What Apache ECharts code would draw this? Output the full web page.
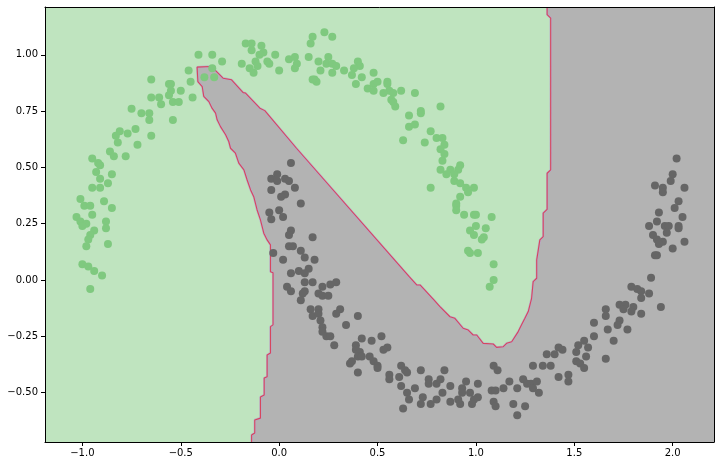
<!DOCTYPE html>
<html>
<head>
<meta charset="utf-8">
<script src="https://cdn.jsdelivr.net/npm/echarts@6/dist/echarts.min.js"></script>
<style>
  html, body { margin: 0; padding: 0; background: #fff; }
  #chart { width: 721px; height: 466px; }
</style>
</head>
<body>
<div id="chart"></div>
<script>
// axis ranges and ticks
const xMin = -1.19, xMax = 2.21
const yMin = -0.719, yMax = 1.212
const xTicks = [-1.0, -0.5, 0.0, 0.5, 1.0, 1.5, 2.0]
const yTicks = [-0.5, -0.25, 0.0, 0.25, 0.5, 0.75, 1.0]

// class 0 (upper moon)
const greenPoints = [
  [-0.17,1.05],[-0.14,1.05],[-0.09,1.04],[-0.14,1.02],[-0.08,1.01],[-0.10,1.00],[-0.02,1.00],[-0.12,0.97],
  [-0.06,0.97],[-0.19,0.96],[-0.05,0.96],[0.00,0.93],[-0.15,0.94],[-0.13,0.92],[-0.11,0.95],
  [-0.41,1.00],[-0.34,1.00],[-0.29,0.97],[-0.46,0.93],[-0.34,0.94],[-0.38,0.90],[-0.33,0.90],[-0.45,0.88],[-0.44,0.81],
  [-0.65,0.89],[-0.56,0.87],[-0.55,0.87],[-0.50,0.84],[-0.55,0.84],[-0.56,0.82],[-0.61,0.81],[-0.65,0.81],
  [-0.54,0.79],[-0.51,0.79],[-0.60,0.78],[-0.75,0.76],[-0.70,0.74],[-0.66,0.74],[-0.66,0.71],[-0.54,0.71],
  [-0.81,0.66],[-0.73,0.67],[-0.77,0.65],[-0.83,0.64],[-0.82,0.61],[-0.65,0.64],[-0.72,0.60],
  [-0.86,0.57],[-0.84,0.55],[-0.78,0.55],[-0.95,0.54],[-0.92,0.52],[-0.91,0.51],[-0.93,0.48],[-0.85,0.47],
  [-0.91,0.45],[-0.87,0.43],[-0.95,0.41],[-0.91,0.41],[-1.01,0.36],[-0.99,0.33],[-0.96,0.33],[-0.89,0.35],
  [-0.85,0.32],[-0.95,0.29],[-1.03,0.28],[-1.01,0.26],[-0.98,0.25],[-1.00,0.24],[-0.88,0.26],[-0.88,0.23],
  [-0.94,0.22],[-0.96,0.20],[-0.97,0.18],[-0.98,0.15],[-0.87,0.16],[-1.00,0.07],[-0.97,0.06],[-0.94,0.04],
  [-0.90,0.02],[-0.96,-0.04],
  [0.17,1.08],[0.23,1.10],[0.27,1.08],[0.16,1.05],[0.05,0.98],[0.08,0.99],[0.09,0.96],[0.08,0.94],
  [0.15,0.99],[0.20,0.97],[0.25,0.99],[0.24,0.96],[0.27,0.96],[0.29,0.95],[0.21,0.93],[0.27,0.92],
  [0.33,0.93],[0.40,0.97],[0.41,0.95],[0.38,0.94],[0.48,0.92],[0.37,0.91],[0.42,0.90],[0.18,0.89],
  [0.19,0.88],[0.17,0.89],[0.39,0.87],[0.45,0.85],[0.48,0.87],[0.50,0.88],[0.48,0.84],
  [0.55,0.88],[0.55,0.87],[0.56,0.84],[0.53,0.83],[0.58,0.83],[0.62,0.84],[0.69,0.83],[0.57,0.80],
  [0.58,0.79],[0.59,0.77],[0.82,0.77],[0.72,0.75],[0.72,0.74],[0.66,0.73],[0.66,0.68],[0.69,0.69],
  [0.77,0.66],[0.80,0.63],[0.83,0.63],[0.63,0.62],[0.74,0.61],[0.84,0.60],[0.82,0.58],[0.84,0.56],
  [0.83,0.53],[0.92,0.51],[0.91,0.49],[0.82,0.49],[0.87,0.49],[0.85,0.47],[0.89,0.47],[0.89,0.44],
  [0.92,0.43],[0.95,0.41],[0.99,0.41],[0.77,0.41],[0.96,0.39],[0.92,0.37],[0.90,0.34],[0.90,0.33],
  [0.90,0.31],[0.94,0.29],[0.99,0.29],[1.00,0.29],[1.08,0.28],[1.00,0.24],[0.97,0.22],[0.99,0.20],
  [1.05,0.23],[1.04,0.19],[1.03,0.18],[0.96,0.13],[0.97,0.12],[1.01,0.12],[1.09,0.07],[1.09,0.00],
  [1.07,-0.03]
]

// class 1 (lower moon)
const grayPoints = [
  [0.06,0.52],[-0.01,0.47],[-0.04,0.45],[-0.01,0.44],[0.03,0.45],[0.05,0.44],[0.08,0.41],[-0.04,0.40],
  [0.03,0.38],[0.01,0.37],[0.11,0.34],[-0.05,0.30],[0.00,0.31],[-0.04,0.27],[0.02,0.28],[0.06,0.22],
  [0.05,0.20],[0.17,0.19],[0.05,0.15],[0.07,0.15],[0.11,0.13],[-0.03,0.12],[0.13,0.10],[0.18,0.09],
  [0.02,0.09],[0.15,0.05],[0.10,0.04],[0.06,0.03],[0.13,0.03],[0.13,-0.01],[0.17,-0.01],[0.04,-0.03],
  [0.06,-0.05],[0.13,-0.05],[0.12,-0.06],[0.26,-0.02],[0.29,-0.01],[0.22,-0.03],[0.20,-0.06],[0.22,-0.07],
  [0.25,-0.07],[0.11,-0.09],[0.16,-0.13],[0.20,-0.13],[0.17,-0.16],[0.20,-0.15],[0.31,-0.13],[0.29,-0.15],
  [0.40,-0.16],[0.21,-0.18],[0.34,-0.20],[0.22,-0.21],[0.22,-0.23],[0.24,-0.25],[0.26,-0.25],[0.28,-0.29],
  [0.42,-0.26],[0.47,-0.27],[0.52,-0.25],[0.39,-0.29],[0.39,-0.31],[0.41,-0.32],[0.40,-0.34],[0.55,-0.30],
  [0.53,-0.31],[0.42,-0.34],[0.46,-0.34],[0.48,-0.36],[0.36,-0.37],[0.37,-0.36],[0.50,-0.38],[0.50,-0.39],
  [0.40,-0.41],[0.62,-0.38],[0.64,-0.40],[0.56,-0.42],[0.56,-0.44],[0.61,-0.43],[0.62,-0.47],[0.65,-0.50],
  [0.65,-0.41],[0.63,-0.57],[0.66,-0.53],[0.69,-0.48],[0.72,-0.40],[0.73,-0.52],[0.72,-0.55],[0.76,-0.44],
  [0.76,-0.46],[0.80,-0.46],[0.82,-0.44],[0.84,-0.40],[0.83,-0.50],[0.80,-0.53],[0.77,-0.55],[0.87,-0.47],
  [0.87,-0.54],[0.91,-0.53],[0.92,-0.55],[0.93,-0.48],[0.93,-0.50],[0.95,-0.45],[0.97,-0.50],[1.01,-0.46],
  [1.01,-0.52],[0.99,-0.53],[0.98,-0.55],[1.09,-0.38],[1.11,-0.40],[1.08,-0.49],[1.10,-0.49],[1.09,-0.54],
  [1.10,-0.56],[1.14,-0.48],[1.17,-0.45],[1.21,-0.48],[1.19,-0.55],[1.21,-0.60],[1.25,-0.56],[1.24,-0.44],
  [1.26,-0.46],[1.28,-0.46],[1.29,-0.48],[1.31,-0.45],[1.32,-0.50],[1.29,-0.38],[1.34,-0.38],[1.38,-0.38],
  [1.36,-0.33],[1.40,-0.33],[1.42,-0.30],[1.44,-0.31],[1.42,-0.43],[1.47,-0.42],[1.47,-0.45],[1.51,-0.32],
  [1.52,-0.29],[1.55,-0.27],[1.57,-0.30],[1.56,-0.34],[1.51,-0.36],[1.53,-0.37],[1.55,-0.39],[1.60,-0.25],
  [2.02,0.54],[2.00,0.47],[1.99,0.44],[1.91,0.42],[1.95,0.41],[1.95,0.39],[2.06,0.41],[2.03,0.35],
  [2.01,0.32],[1.93,0.30],[2.05,0.28],[1.92,0.26],[1.88,0.24],[1.96,0.24],[1.98,0.24],[2.03,0.24],
  [2.03,0.23],[1.97,0.21],[1.90,0.20],[1.92,0.18],[1.95,0.17],[1.93,0.16],[2.06,0.17],[2.00,0.14],
  [1.92,0.11],[1.91,0.11],[1.89,0.01],[1.79,-0.03],[1.82,-0.04],[1.84,-0.05],[1.88,-0.06],[1.84,-0.08],
  [1.73,-0.11],[1.76,-0.11],[1.80,-0.12],[1.75,-0.13],[1.79,-0.14],[1.94,-0.12],[1.84,-0.15],[1.66,-0.13],
  [1.66,-0.16],[1.60,-0.19],[1.73,-0.18],[1.72,-0.20],[1.67,-0.22],[1.77,-0.22],[1.70,-0.27],[1.66,-0.35]
]

// decision boundary, traced from the top edge down to the bottom edge
const boundaryX = [
  1.362, 1.362, 1.380, 1.380, 1.362, 1.362, 1.342, 1.342, 1.325, 1.309, 1.309, 1.291, 1.283, 1.266,
  1.249, 1.232, 1.215, 1.182, 1.156, 1.139, 1.105, 1.088, 1.037, 1.004, 0.986, 0.961, 0.935, 0.893,
  0.868, 0.817, 0.783, 0.716, 0.699, 0.661, 0.088, -0.073, -0.098, -0.171, -0.183, -0.242, -0.285,
  -0.327, -0.349, -0.417, -0.413, -0.391, -0.383, -0.357, -0.341, -0.323, -0.315, -0.298, -0.272,
  -0.256, -0.247, -0.222, -0.205, -0.179, -0.163, -0.145, -0.129, -0.112, -0.095, -0.078, -0.061,
  -0.044, -0.044, -0.031, -0.031, -0.044, -0.044, -0.061, -0.061, -0.076, -0.076, -0.095, -0.095,
  -0.124, -0.124, -0.140, -0.140
]
const boundaryY = [
  1.212, 1.178, 1.163, 0.489, 0.474, 0.314, 0.297, 0.193, 0.178, 0.089, 0.008, -0.007, -0.081, -0.140,
  -0.170, -0.199, -0.229, -0.274, -0.281, -0.296, -0.299, -0.284, -0.281, -0.244, -0.244, -0.222, -0.214, -0.170,
  -0.163, -0.118, -0.085, -0.022, -0.022, 0.015, 0.585, 0.752, 0.763, 0.830, 0.832, 0.889, 0.896,
  0.933, 0.948, 0.945, 0.881, 0.859, 0.815, 0.792, 0.763, 0.741, 0.711, 0.681, 0.645,
  0.615, 0.585, 0.563, 0.519, 0.489, 0.445, 0.400, 0.370, 0.311, 0.267, 0.208, 0.178,
  0.156, 0.037, 0.032, -0.199, -0.207, -0.324, -0.333, -0.429, -0.435, -0.510, -0.519, -0.613,
  -0.621, -0.679, -0.688, -0.719
]

const chart = echarts.init(document.getElementById('chart'))

const fmtMinus = (s) => s.replace('-', '\u2212')
const labelStyle = { fontFamily: 'DejaVu Sans', fontSize: 10, color: '#000' }

const boundaryLine = boundaryX.map((x, i) => [x, boundaryY[i]])

const option = {
  animation: false,
  grid: {
    left: 45, right: 7, top: 7, bottom: 24,
    show: true,
    backgroundColor: '#bfe4bf',
    borderWidth: 0
  },
  xAxis: [
    {
      type: 'value', min: xMin, max: xMax, z: 10,
      axisLine: { show: true, onZero: false, lineStyle: { color: '#000', width: 1 } },
      axisTick: { show: true, length: 4, lineStyle: { color: '#000' }, customValues: xTicks },
      axisLabel: { ...labelStyle, margin: 6, customValues: xTicks, formatter: v => fmtMinus(v.toFixed(1)) },
      splitLine: { show: false }
    },
    {
      type: 'value', min: xMin, max: xMax, position: 'top', z: 10,
      axisLine: { show: true, onZero: false, lineStyle: { color: '#000', width: 1 } },
      axisTick: { show: false }, axisLabel: { show: false }, splitLine: { show: false }
    }
  ],
  yAxis: [
    {
      type: 'value', min: yMin, max: yMax, z: 10,
      axisLine: { show: true, onZero: false, lineStyle: { color: '#000', width: 1 } },
      axisTick: { show: true, length: 4, lineStyle: { color: '#000' }, customValues: yTicks },
      axisLabel: { ...labelStyle, margin: 7, customValues: yTicks, formatter: v => fmtMinus(v.toFixed(2)) },
      splitLine: { show: false }
    },
    {
      type: 'value', min: yMin, max: yMax, position: 'right', z: 10,
      axisLine: { show: true, onZero: false, lineStyle: { color: '#000', width: 1 } },
      axisTick: { show: false }, axisLabel: { show: false }, splitLine: { show: false }
    }
  ],
  series: [
    {
      // class 1 region
      type: 'custom',
      z: 1,
      silent: true,
      clip: true,
      data: [0],
      renderItem: (params, api) => {
        const pts = boundaryLine.map(p => api.coord(p))
        pts.push(api.coord([xMax, yMin]))
        pts.push(api.coord([xMax, yMax]))
        return { type: 'polygon', shape: { points: pts }, style: { fill: '#b3b3b3' } }
      }
    },
    {
      type: 'line',
      z: 2,
      silent: true,
      data: boundaryLine,
      showSymbol: false,
      clip: true,
      lineStyle: { color: '#b9a0d0', width: 2.2, opacity: 0.8 }
    },
    {
      type: 'line',
      z: 3,
      silent: true,
      data: boundaryLine,
      showSymbol: false,
      clip: true,
      lineStyle: { color: '#d6475c', width: 1.1 }
    },
    {
      type: 'scatter',
      z: 4,
      data: greenPoints,
      symbolSize: 8,
      itemStyle: { color: '#7fc97f', opacity: 1 }
    },
    {
      type: 'scatter',
      z: 4,
      data: grayPoints,
      symbolSize: 8,
      itemStyle: { color: '#666666', opacity: 1 }
    }
  ]
}

chart.setOption(option)
</script>
</body>
</html>
